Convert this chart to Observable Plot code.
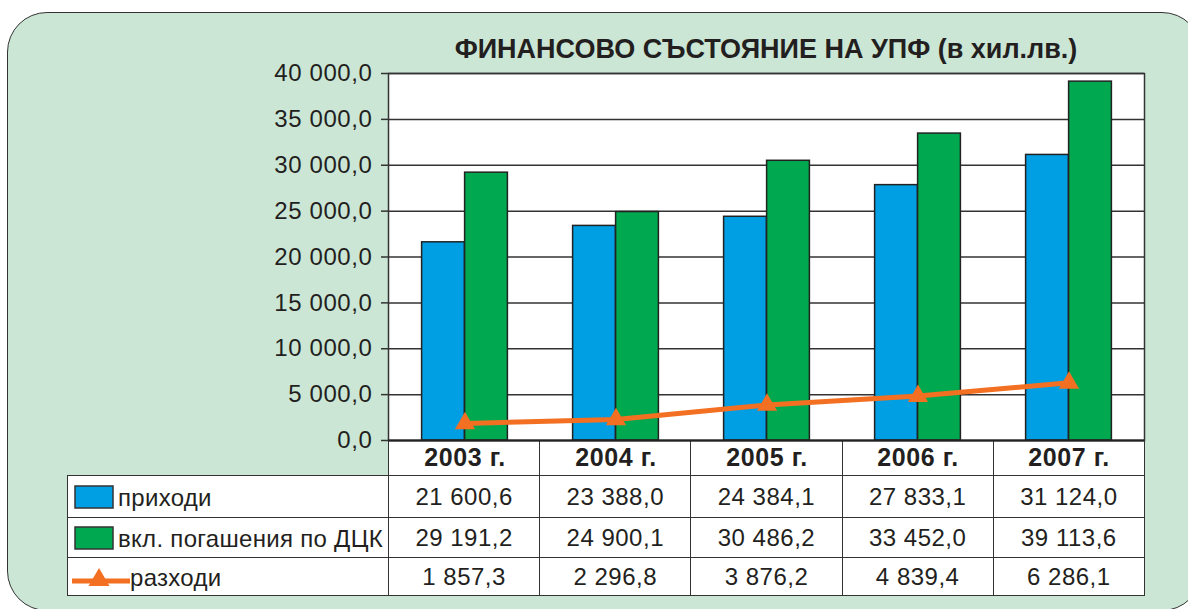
<!DOCTYPE html>
<html>
<head>
<meta charset="utf-8">
<script src="https://cdn.jsdelivr.net/npm/d3@7"></script>
<script src="https://cdn.jsdelivr.net/npm/@observablehq/plot@0.6"></script>
<style>
  html, body { margin: 0; padding: 0; background: #ffffff; }
  #wrap { position: relative; width: 1188px; height: 609px; overflow: hidden; font-family: "Liberation Sans", Arial, sans-serif; color: #231f20; }
  #panel { position: absolute; left: 7px; top: 12px; width: 1193px; height: 597px; background: #cce6d6; border: 1.5px solid #333; border-radius: 40px; }
  #title { position: absolute; left: 388px; width: 756px; top: 36px; text-align: center; font-size: 27px; line-height: 27px; font-weight: bold; color: #231f20; white-space: nowrap; }
  #chart { position: absolute; left: 0; top: 0; }
  #tbl { position: absolute; left: 67px; top: 440px; border-collapse: collapse; table-layout: fixed; font-size: 24px; letter-spacing: 0.5px; }
  #tbl td { border: 1.5px solid #333; background: #fff; padding: 0; text-align: center; vertical-align: middle; white-space: nowrap; }
  #tbl td.empty { border: none; background: transparent; }
  #tbl td.leg { text-align: left; padding-left: 6px; letter-spacing: 0.3px; }
  #tbl td.leg svg { vertical-align: middle; margin-right: 4px; }
  g[aria-label="x-axis tick label"] text { font-weight: bold; }
</style>
</head>
<body>
<div id="wrap">
  <div id="panel"></div>
  <table id="tbl"></table>
  <div id="chart"></div>
  <div id="title"></div>
</div>
<script>
const titleText = "ФИНАНСОВО СЪСТОЯНИЕ НА УПФ (в хил.лв.)";
const years = [2003, 2004, 2005, 2006, 2007];
const income = [21600.6, 23388.0, 24384.1, 27833.1, 31124.0];
const incomeDck = [29191.2, 24900.1, 30486.2, 33452.0, 39113.6];
const expenses = [1857.3, 2296.8, 3876.2, 4839.4, 6286.1];
const seriesNames = ["приходи", "вкл. погашения по ДЦК", "разходи"];
const yTicks = [0, 5000, 10000, 15000, 20000, 25000, 30000, 35000, 40000];

const colors = { blue: "#009fe3", green: "#00a94f", orange: "#f36f21" };

const fmt = v => d3.format(",.1f")(v).replace(/,/g, " ").replace(".", ",");

document.getElementById("title").textContent = titleText;

const data = years.map((y, i) => ({ year: y, income: income[i], dck: incomeDck[i], exp: expenses[i] }));

const plot = Plot.plot({
  width: 1188,
  height: 475,
  marginTop: 73,
  marginBottom: 35,
  marginLeft: 388,
  marginRight: 44,
  style: { fontFamily: "'Liberation Sans', Arial, sans-serif", background: "transparent", color: "#231f20", letterSpacing: "0.6px" },
  x: { type: "band", domain: years, padding: 0 },
  y: { domain: [0, 40000] },
  marks: [
    Plot.frame({ fill: "white", stroke: "none" }),
    Plot.gridY(yTicks, { stroke: "#333", strokeOpacity: 1, strokeWidth: 1.5 }),
    Plot.barY(data, { x: "year", y: "income", fill: colors.blue, stroke: "#222", strokeWidth: 1.5, insetLeft: 32.6, insetRight: 75.6 }),
    Plot.barY(data, { x: "year", y: "dck", fill: colors.green, stroke: "#222", strokeWidth: 1.5, insetLeft: 75.6, insetRight: 32.6 }),
    Plot.frame({ stroke: "#333", strokeWidth: 1.5 }),
    Plot.ruleY([0], { stroke: "#222", strokeWidth: 2 }),
    Plot.line(data, { x: "year", y: "exp", stroke: colors.orange, strokeWidth: 5 }),
    Plot.dot(data, { x: "year", y: "exp", symbol: "triangle", r: 7.5, fill: colors.orange, stroke: "none" }),
    Plot.axisY(yTicks, { tickFormat: fmt, fontSize: 24, tickSize: 7, tickPadding: 9, stroke: "#333", strokeWidth: 1.5, label: null }),
    Plot.axisX({ tickFormat: d => d + " г.", fontSize: 25, fontWeight: "bold", tickSize: 0, tickPadding: 8, label: null })
  ]
});
document.getElementById("chart").appendChild(plot);

// data table
const tbl = document.getElementById("tbl");
const colW = [321, 151.2, 151.2, 151.2, 151.2, 151.2];
const cg = document.createElement("colgroup");
colW.forEach(w => { const c = document.createElement("col"); c.style.width = w + "px"; cg.appendChild(c); });
tbl.appendChild(cg);
tbl.style.width = d3.sum(colW) + "px";

const header = document.createElement("tr");
header.style.height = "35px";
const e = document.createElement("td"); e.className = "empty"; header.appendChild(e);
years.forEach(() => { const td = document.createElement("td"); header.appendChild(td); });
tbl.appendChild(header);

const swatchBox = c => `<svg width="40" height="24"><rect x="1" y="1" width="38" height="22" fill="${c}" stroke="#333" stroke-width="1.5"/></svg>`;
const swatchLine = c => `<svg width="58" height="24" style="margin-left:-2px;margin-right:0"><line x1="0" y1="16" x2="58" y2="16" stroke="${c}" stroke-width="5"/><path d="M27,3 L37.5,21 L16.5,21 Z" fill="${c}"/></svg>`;
const rows = [
  { name: seriesNames[0], vals: income, sw: swatchBox(colors.blue), h: 42 },
  { name: seriesNames[1], vals: incomeDck, sw: swatchBox(colors.green), h: 40 },
  { name: seriesNames[2], vals: expenses, sw: swatchLine(colors.orange), h: 38 }
];
rows.forEach(r => {
  const tr = document.createElement("tr");
  tr.style.height = r.h + "px";
  const l = document.createElement("td");
  l.className = "leg";
  l.innerHTML = r.sw + "<span style='vertical-align:middle'>" + r.name + "</span>";
  tr.appendChild(l);
  r.vals.forEach(v => { const td = document.createElement("td"); td.textContent = fmt(v); tr.appendChild(td); });
  tbl.appendChild(tr);
});
</script>
</body>
</html>
